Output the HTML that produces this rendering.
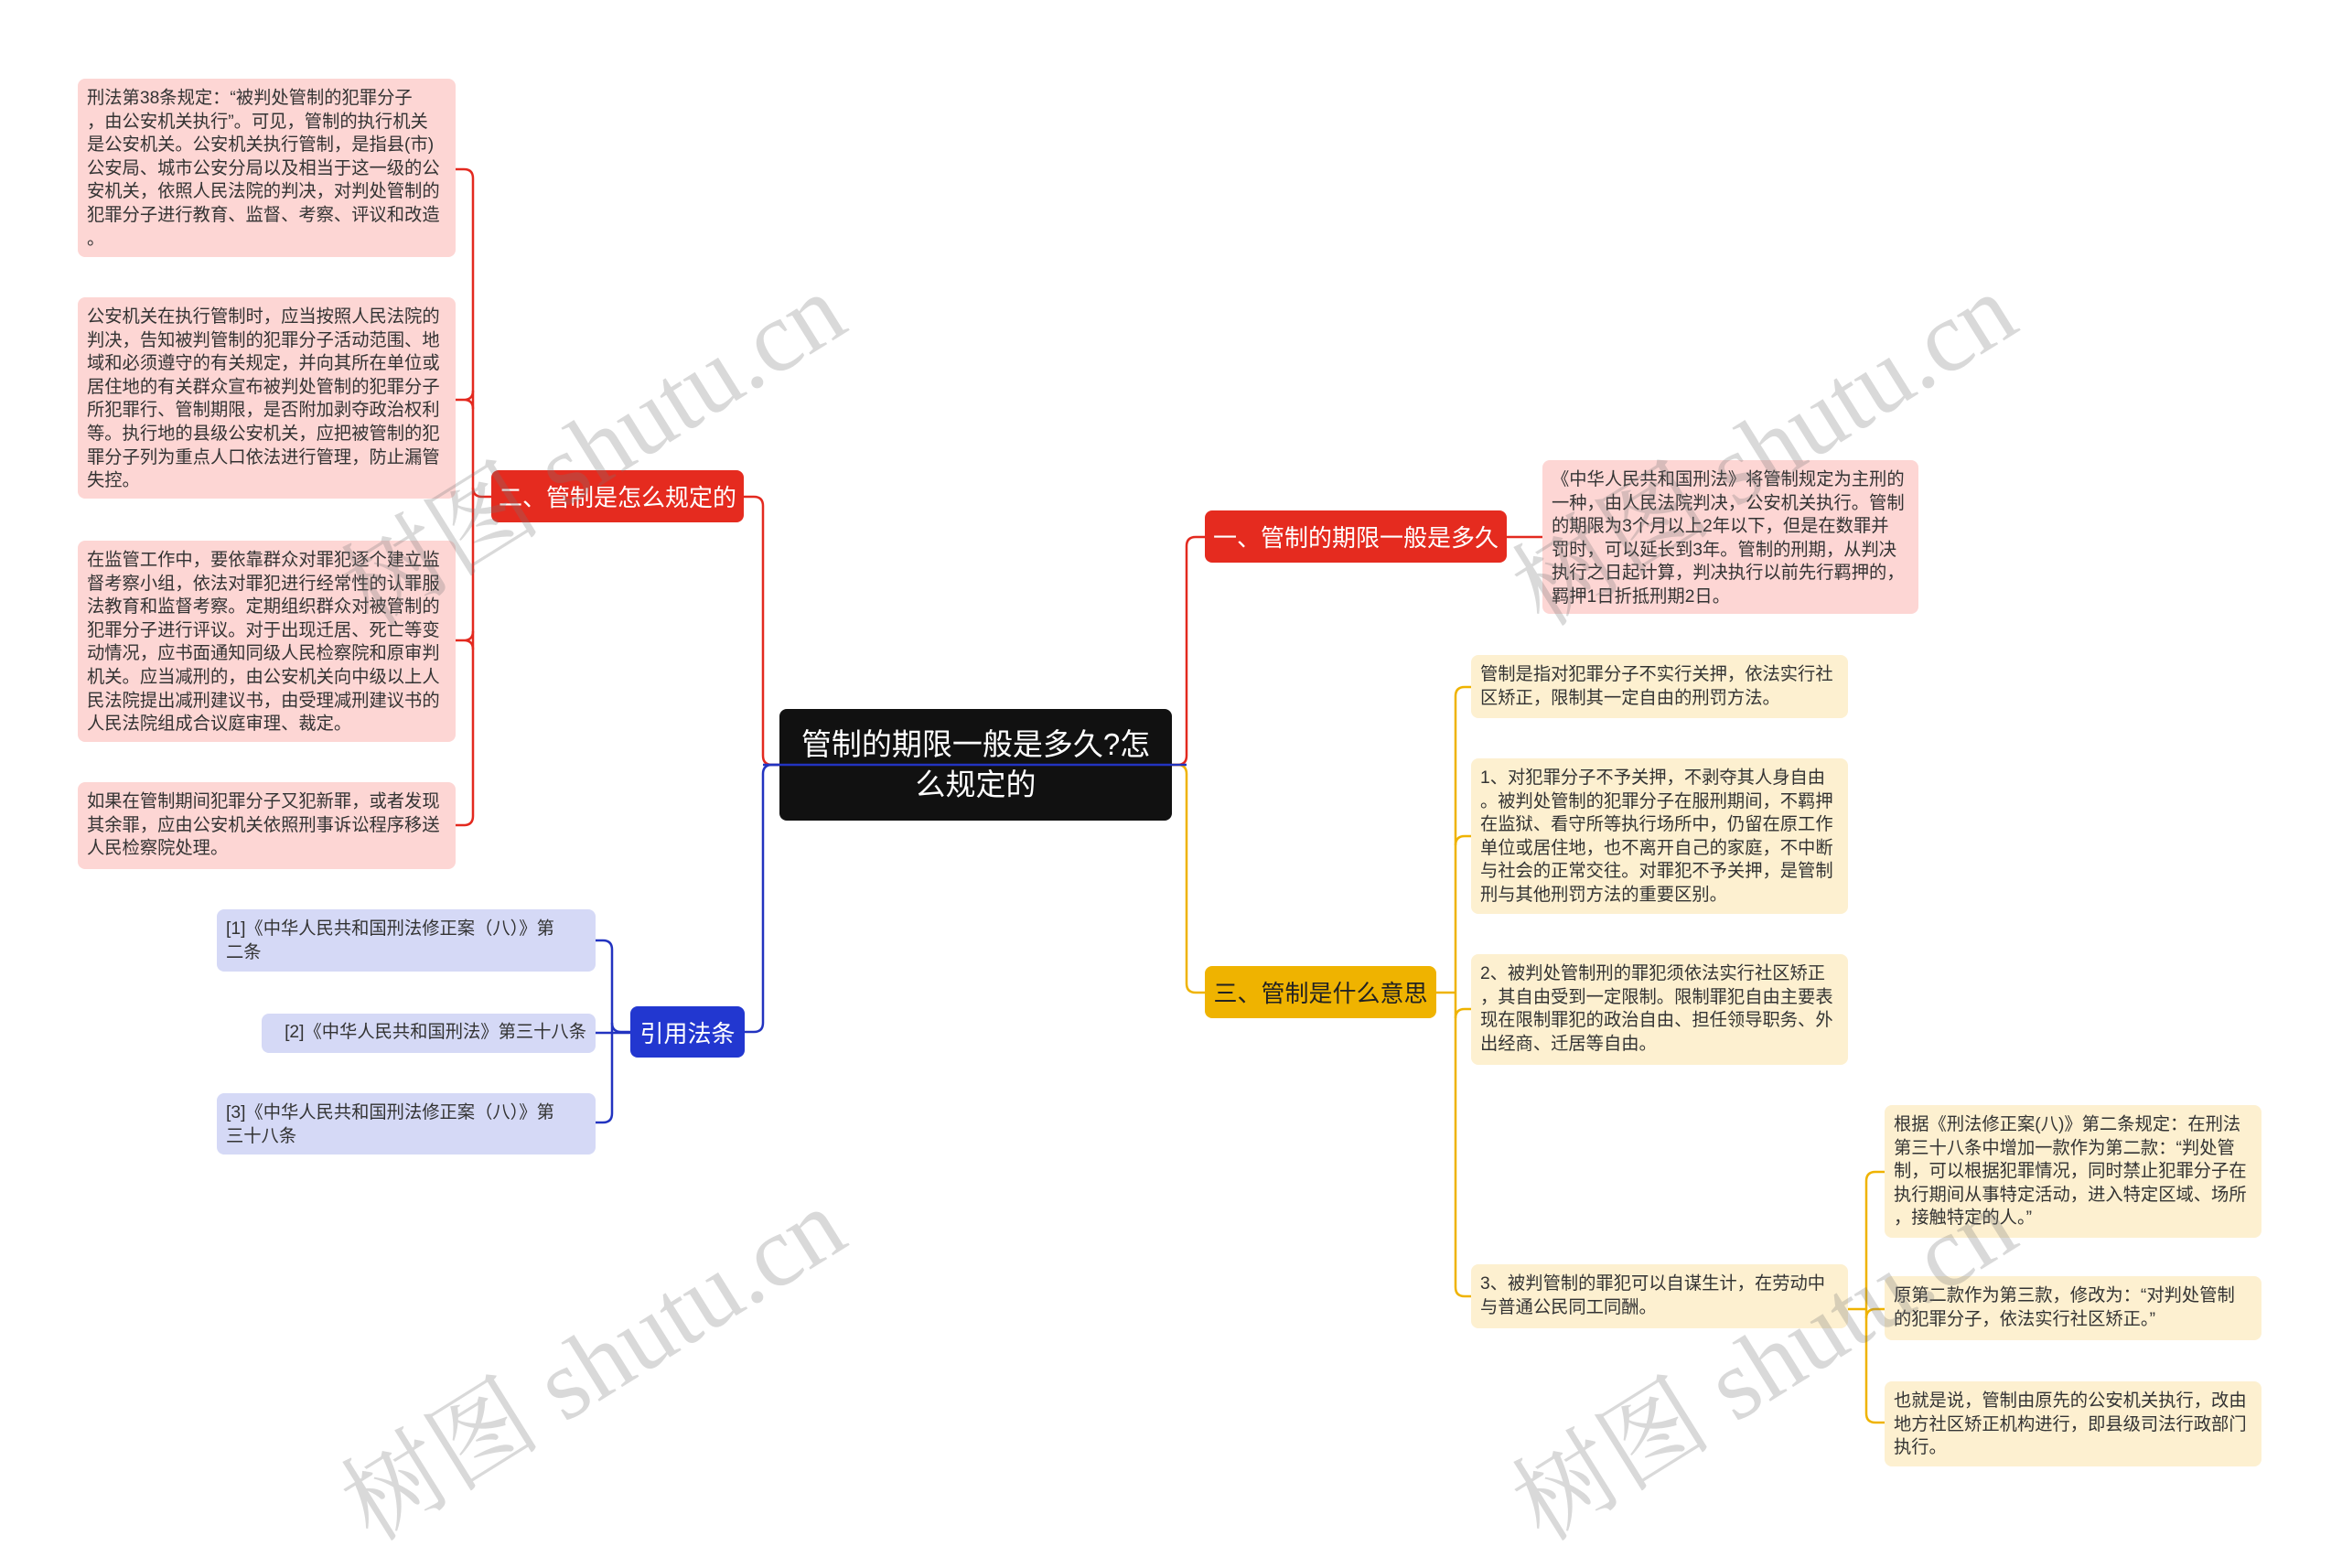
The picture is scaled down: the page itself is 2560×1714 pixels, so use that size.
<!DOCTYPE html>
<html><head><meta charset="utf-8"><style>
html,body{margin:0;padding:0;}
body{width:2560px;height:1689px;position:relative;background:#fff;overflow:hidden;font-family:"Liberation Sans","Noto Sans CJK SC",sans-serif;}
.b{position:absolute;box-sizing:border-box;border-radius:8px;}
.t{font-size:19.3px;line-height:25.6px;color:#333;padding:9px 10px;white-space:nowrap;}
.pk{background:#fdd6d4;}
.yl{background:#fdf0d0;}
.lv{background:#d5d9f6;}
.m{color:#fff;font-size:26px;display:flex;align-items:center;justify-content:center;white-space:nowrap;}
.wm{position:absolute;font-family:"Liberation Serif","Noto Serif CJK SC",serif;font-size:110px;color:rgba(120,120,120,0.28);transform:rotate(-32deg);white-space:nowrap;transform-origin:left top;}
</style></head><body>
<svg width="2560" height="1689" style="position:absolute;left:0;top:0" fill="none" stroke-width="2.5">
<g stroke="#e3291f">
<path d="M1281 836 H1287 Q1297 836 1297 826 V597 Q1297 587 1307 587 H1317"/>
<path d="M1647 587 H1686"/>
<path d="M852 836 H844 Q834 836 834 826 V553 Q834 543 824 543 H813"/>
<path d="M537 543 H527 Q517 543 517 533 V195 Q517 185 507 185 H498"/>
<path d="M517 533 V892 Q517 902 507 902 H498"/>
<path d="M517 447 Q517 437 507 437 H498 M517 427 Q517 437 507 437"/>
<path d="M517 710 Q517 700 507 700 H498 M517 690 Q517 700 507 700"/>
</g>
<g stroke="#efb300">
<path d="M1281 836 H1287 Q1297 836 1297 846 V1075 Q1297 1085 1307 1085 H1317"/>
<path d="M1570 1085 H1591"/>
<path d="M1608 751 H1601 Q1591 751 1591 761 V1407 Q1591 1417 1601 1417 H1608"/>
<path d="M1591 924 Q1591 914 1601 914 H1608"/>
<path d="M1591 1113 Q1591 1103 1601 1103 H1608"/>
<path d="M2020 1431 H2040"/>
<path d="M2060 1281 H2050 Q2040 1281 2040 1291 V1545 Q2040 1555 2050 1555 H2060"/>
<path d="M2040 1441 Q2040 1431 2050 1431 H2060"/>
</g>
<g stroke="#2233c0">
<path d="M852 836 H844 Q834 836 834 846 V1118 Q834 1128 824 1128 H814"/>
<path d="M689 1128 H679 Q669 1128 669 1118 V1038 Q669 1028 659 1028 H651"/>
<path d="M669 1118 V1217 Q669 1227 659 1227 H651"/>
<path d="M651 1129 H689"/>
</g>
</svg>

<div class="b m" style="left:852px;top:775px;width:429px;height:122px;background:#111;font-size:33px;line-height:44px;text-align:center;">管制的期限一般是多久?怎<br>么规定的</div>
<svg width="2560" height="1689" style="position:absolute;left:0;top:0" fill="none"><path d="M834 836 H1297" stroke="#2233c0" stroke-width="2.5"/></svg>

<div class="b m" style="left:1317px;top:558px;width:330px;height:57px;background:#e52b1f;">一、管制的期限一般是多久</div>
<div class="b t pk" style="left:1686px;top:503px;width:411px;height:168px;">《中华人民共和国刑法》将管制规定为主刑的<br>一种，由人民法院判决，公安机关执行。管制<br>的期限为3个月以上2年以下，但是在数罪并<br>罚时，可以延长到3年。管制的刑期，从判决<br>执行之日起计算，判决执行以前先行羁押的，<br>羁押1日折抵刑期2日。</div>

<div class="b m" style="left:1317px;top:1056px;width:253px;height:57px;background:#efb300;color:#222;">三、管制是什么意思</div>
<div class="b t yl" style="left:1608px;top:716px;width:412px;height:69px;">管制是指对犯罪分子不实行关押，依法实行社<br>区矫正，限制其一定自由的刑罚方法。</div>
<div class="b t yl" style="left:1608px;top:829px;width:412px;height:170px;">1、对犯罪分子不予关押，不剥夺其人身自由<br>。被判处管制的犯罪分子在服刑期间，不羁押<br>在监狱、看守所等执行场所中，仍留在原工作<br>单位或居住地，也不离开自己的家庭，不中断<br>与社会的正常交往。对罪犯不予关押，是管制<br>刑与其他刑罚方法的重要区别。</div>
<div class="b t yl" style="left:1608px;top:1043px;width:412px;height:121px;">2、被判处管制刑的罪犯须依法实行社区矫正<br>，其自由受到一定限制。限制罪犯自由主要表<br>现在限制罪犯的政治自由、担任领导职务、外<br>出经商、迁居等自由。</div>
<div class="b t yl" style="left:1608px;top:1382px;width:412px;height:70px;">3、被判管制的罪犯可以自谋生计，在劳动中<br>与普通公民同工同酬。</div>
<div class="b t yl" style="left:2060px;top:1208px;width:412px;height:145px;">根据《刑法修正案(八)》第二条规定：在刑法<br>第三十八条中增加一款作为第二款：“判处管<br>制，可以根据犯罪情况，同时禁止犯罪分子在<br>执行期间从事特定活动，进入特定区域、场所<br>，接触特定的人。”</div>
<div class="b t yl" style="left:2060px;top:1395px;width:412px;height:70px;">原第二款作为第三款，修改为：“对判处管制<br>的犯罪分子，依法实行社区矫正。”</div>
<div class="b t yl" style="left:2060px;top:1510px;width:412px;height:93px;">也就是说，管制由原先的公安机关执行，改由<br>地方社区矫正机构进行，即县级司法行政部门<br>执行。</div>

<div class="b m" style="left:537px;top:514px;width:276px;height:57px;background:#e52b1f;">二、管制是怎么规定的</div>
<div class="b t pk" style="left:85px;top:86px;width:413px;height:195px;">刑法第38条规定：“被判处管制的犯罪分子<br>，由公安机关执行”。可见，管制的执行机关<br>是公安机关。公安机关执行管制，是指县(市)<br>公安局、城市公安分局以及相当于这一级的公<br>安机关，依照人民法院的判决，对判处管制的<br>犯罪分子进行教育、监督、考察、评议和改造<br>。</div>
<div class="b t pk" style="left:85px;top:325px;width:413px;height:220px;">公安机关在执行管制时，应当按照人民法院的<br>判决，告知被判管制的犯罪分子活动范围、地<br>域和必须遵守的有关规定，并向其所在单位或<br>居住地的有关群众宣布被判处管制的犯罪分子<br>所犯罪行、管制期限，是否附加剥夺政治权利<br>等。执行地的县级公安机关，应把被管制的犯<br>罪分子列为重点人口依法进行管理，防止漏管<br>失控。</div>
<div class="b t pk" style="left:85px;top:591px;width:413px;height:220px;">在监管工作中，要依靠群众对罪犯逐个建立监<br>督考察小组，依法对罪犯进行经常性的认罪服<br>法教育和监督考察。定期组织群众对被管制的<br>犯罪分子进行评议。对于出现迁居、死亡等变<br>动情况，应书面通知同级人民检察院和原审判<br>机关。应当减刑的，由公安机关向中级以上人<br>民法院提出减刑建议书，由受理减刑建议书的<br>人民法院组成合议庭审理、裁定。</div>
<div class="b t pk" style="left:85px;top:855px;width:413px;height:95px;">如果在管制期间犯罪分子又犯新罪，或者发现<br>其余罪，应由公安机关依照刑事诉讼程序移送<br>人民检察院处理。</div>

<div class="b m" style="left:689px;top:1100px;width:125px;height:56px;background:#2237d0;">引用法条</div>
<div class="b t lv" style="left:237px;top:994px;width:414px;height:68px;">[1]《中华人民共和国刑法修正案（八）》第<br>二条</div>
<div class="b t lv" style="left:286px;top:1108px;width:365px;height:43px;padding-top:8px;text-align:right;">[2]《中华人民共和国刑法》第三十八条</div>
<div class="b t lv" style="left:237px;top:1195px;width:414px;height:67px;">[3]《中华人民共和国刑法修正案（八）》第<br>三十八条</div>

<div class="wm" style="left:340px;top:580px;">树图 shutu.cn</div>
<div class="wm" style="left:1620px;top:580px;">树图 shutu.cn</div>
<div class="wm" style="left:340px;top:1580px;">树图 shutu.cn</div>
<div class="wm" style="left:1620px;top:1580px;">树图 shutu.cn</div>
</body></html>
